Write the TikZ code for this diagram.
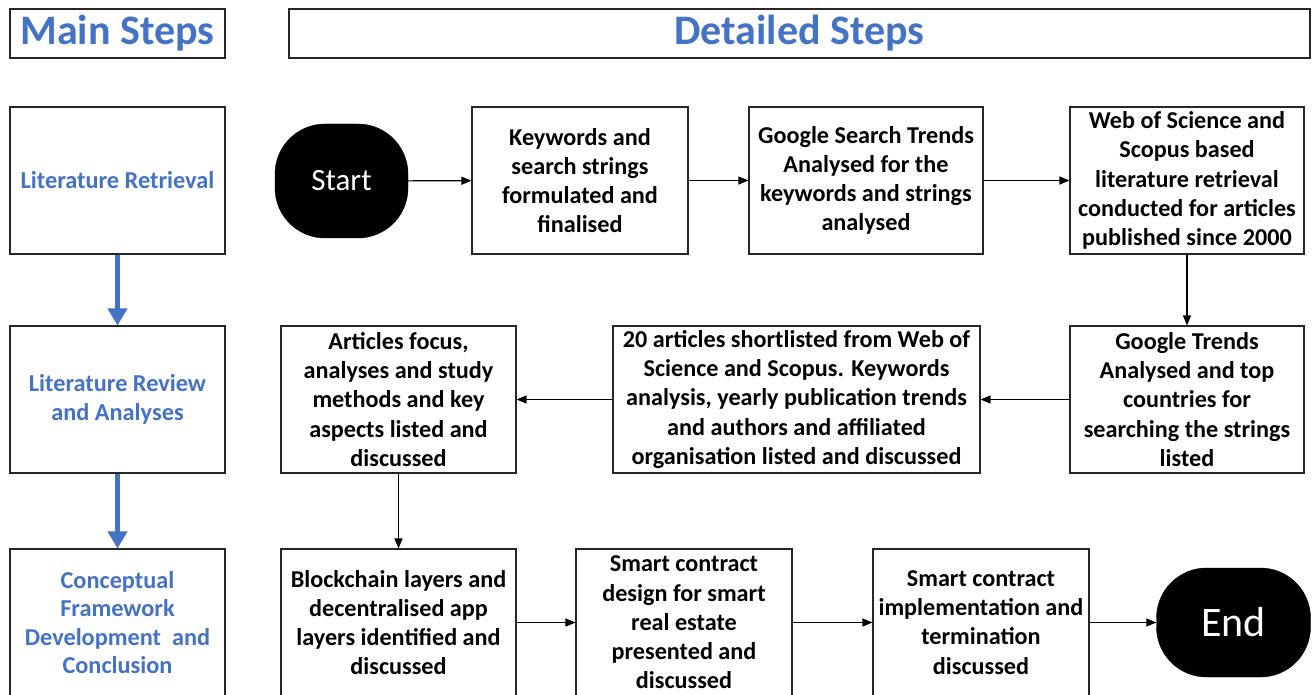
\documentclass[tikz,border=0pt]{standalone}
\usepackage{fontspec}
\setmainfont{Carlito}
\usetikzlibrary{arrows.meta}
\definecolor{hblue}{RGB}{68,114,196}
\tikzset{
  base/.style={draw=black!85, line width=1.1pt, inner sep=0pt, align=center, fill=white},
  box/.style={base, font=\bfseries\fontsize{24.2}{29.2}\selectfont},
  mainbox/.style={base, text=hblue, font=\bfseries\fontsize{24.3}{28.5}\selectfont, minimum width=215pt, minimum height=147pt},
  headbox/.style={base, text=hblue, font=\bfseries\fontsize{42}{44}\selectfont, minimum height=49pt},
  term/.style={fill=black, draw=black, rounded corners=50pt, text=white, inner sep=0pt, align=center},
  flow/.style={line width=1.2pt, -{Triangle[width=8pt,length=10pt]}},
  bflow/.style={draw=hblue, line width=5pt, -{Triangle[width=19pt,length=17pt]}, hblue},
}
\begin{document}
\begin{tikzpicture}[x=1pt,y=-1pt]
\useasboundingbox (0,0) rectangle (1312,695);
\fill[white] (0,0) rectangle (1312,695);
% headers
\node[headbox, minimum width=215pt] (mainh) at (117.5,33.5) {Main Steps};
\node[headbox, minimum width=1021pt] (deth) at (799.5,33.5) {Detailed Steps};
% main steps column
\node[mainbox] (lr) at (117.5,180.5) {Literature Retrieval};
\node[mainbox] (lrev) at (117.5,399.5) {Literature Review\\and Analyses};
\node[mainbox] (cf) at (117.5,622.5) {Conceptual\\Framework\\Development\ \ and\\Conclusion};
% row 1
\node[term, minimum width=133pt, minimum height=114pt, font=\fontsize{31}{34}\selectfont] (start) at (341.5,181) {Start};
\node[box, minimum width=216pt, minimum height=147pt] (b1) at (580,180.5) {Keywords and\\search strings\\formulated and\\finalised};
\node[box, minimum width=234pt, minimum height=147pt] (b2) at (866,180.5) {Google Search Trends\\Analysed for the\\keywords and strings\\analysed};
\node[box, minimum width=234pt, minimum height=147pt] (b3) at (1187,180.5) {Web of Science and\\Scopus based\\literature retrieval\\conducted for articles\\published since 2000};
% row 2
\node[box, minimum width=234pt, minimum height=147pt] (gt) at (1187,399.5) {Google Trends\\Analysed and top\\countries for\\searching the strings\\listed};
\node[box, minimum width=367pt, minimum height=147pt] (a20) at (796.5,399.5) {20 articles shortlisted from Web of\\Science and Scopus. Keywords\\analysis, yearly publication trends\\and authors and affiliated\\organisation listed and discussed};
\node[box, minimum width=235pt, minimum height=147pt] (af) at (398.5,399.5) {Articles focus,\\analyses and study\\methods and key\\aspects listed and\\discussed};
% row 3
\node[box, minimum width=235pt, minimum height=147pt] (bc) at (398.5,622.5) {Blockchain layers and\\decentralised app\\layers identified and\\discussed};
\node[box, minimum width=216pt, minimum height=147pt] (sd) at (684,622.5) {Smart contract\\design for smart\\real estate\\presented and\\discussed};
\node[box, minimum width=216pt, minimum height=147pt] (si) at (981,622.5) {Smart contract\\implementation and\\termination\\discussed};
\node[term, minimum width=154pt, minimum height=109pt, font=\fontsize{42}{44}\selectfont] (endn) at (1233.5,622.5) {End};
% connectors
\draw[flow] (start) -- (b1);
\draw[flow] (b1) -- (b2);
\draw[flow] (b2) -- (b3);
\draw[flow] (b3) -- (gt);
\draw[flow] (gt) -- (a20);
\draw[flow] (a20) -- (af);
\draw[flow] (af) -- (bc);
\draw[flow] (bc) -- (sd);
\draw[flow] (sd) -- (si);
\draw[flow] (si) -- (endn);
\draw[bflow] (lr) -- (lrev);
\draw[bflow] (lrev) -- (cf);
\end{tikzpicture}
\end{document}
